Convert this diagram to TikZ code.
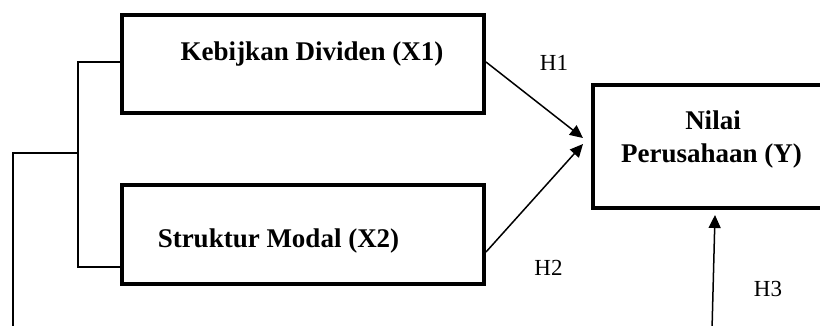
\documentclass[tikz,border=0pt]{standalone}
\usepackage{fontspec}
\setmainfont{Liberation Serif}
\usetikzlibrary{arrows.meta}
\tikzset{
  box/.style={draw, line width=4pt, rectangle, inner sep=0pt, line join=miter},
  boxtext/.style={font=\bfseries\fontsize{27}{32}\selectfont, anchor=base, inner sep=0pt},
  hlabel/.style={font=\fontsize{23}{27}\selectfont, anchor=base, inner sep=0pt},
  conn/.style={line width=1.5pt},
  arr/.style={line width=1.5pt, -{Triangle[length=13pt,width=12pt]}},
}
\begin{document}
\begin{tikzpicture}[x=1pt,y=-1pt]
\useasboundingbox (0,0) rectangle (820,325);
\clip (0,0) rectangle (820,325);
% boxes
\node[box, minimum width=362pt, minimum height=98pt] (x1) at (303,64) {};
\node[box, minimum width=362pt, minimum height=99pt] (x2) at (303,234.5) {};
\node[box, minimum width=240pt, minimum height=123pt] (y) at (713,146.5) {};
% texts
\node[boxtext] (t1) at (312,60) {Kebijkan Dividen (X1)};
\node[boxtext] (t2) at (278.5,247) {Struktur Modal (X2)};
\node[boxtext] (t3) at (713,129) {Nilai};
\node[boxtext] (t4) at (711.5,162) {Perusahaan (Y)};
% hypothesis labels
\node[hlabel] (h1) at (554,70) {H1};
\node[hlabel] (h2) at (548.5,275) {H2};
\node[hlabel] (h3) at (768,296) {H3};
% coordinates
\coordinate (h1end) at (583,138);
\coordinate (h2end) at (583,144);
\coordinate (h3start) at (712,330);
\coordinate (h3end) at (715,215);
\coordinate (bt) at (78,62);
\coordinate (bb) at (78,267);
\coordinate (bm) at (78,153);
\coordinate (lt) at (13,153);
\coordinate (lb) at (13,330);
% arrows
\draw[arr] (x1.east |- 0,62) -- (h1end);
\draw[arr] (x2.east |- 0,252) -- (h2end);
\draw[arr] (h3start) -- (h3end);
% left bracket
\draw[conn] (x1.west |- bt) -- (bt) -- (bb) -- (x2.west |- bb);
\draw[conn] (bm) -- (lt) -- (lb);
\end{tikzpicture}
\end{document}
